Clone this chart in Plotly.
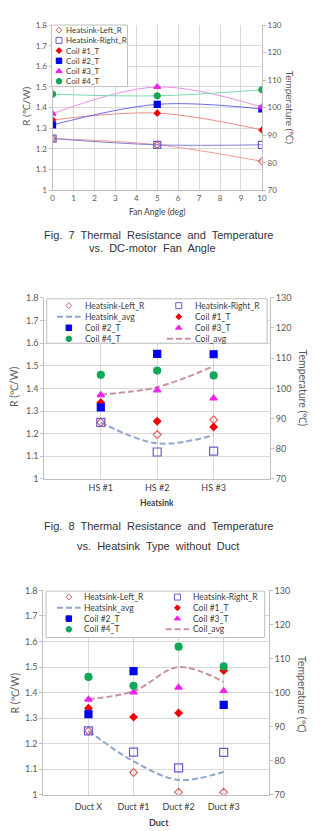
import plotly.graph_objects as go

W, H = 322, 831
FONT = "Lato, 'Liberation Sans', sans-serif"
CAP_FONT = "'Liberation Sans Narrow', 'Liberation Sans', sans-serif"
TXT = "#595959"
GRID = "#d9d9d9"
AXLINE = "#bfbfbf"

# ---------------- data ----------------
fan_angle = [0, 5, 10]
fan_left_R = [1.25, 1.22, 1.14]
fan_right_R = [1.25, 1.22, 1.22]
fan_coil1_T = [95.5, 98.0, 91.9]
fan_coil2_T = [93.7, 101.2, 99.5]
fan_coil3_T = [97.8, 107.5, 100.2]
fan_coil4_T = [104.9, 104.3, 106.5]

hs_cats = ["HS #1", "HS #2", "HS #3"]
hs_left_R = [1.25, 1.196, 1.261]
hs_right_R = [1.25, 1.119, 1.123]
hs_avg_R = [1.25, 1.157, 1.193]
hs_coil1_T = [95.3, 89.1, 87.2]
hs_coil2_T = [93.7, 111.4, 111.3]
hs_coil3_T = [97.8, 99.4, 96.7]
hs_coil4_T = [104.5, 105.9, 104.3]
hs_coil_avg_T = [98.0, 100.4, 107.4]

duct_cats = ["Duct X", "Duct #1", "Duct #2", "Duct #3"]
duct_left_R = [1.25, 1.087, 1.01, 1.01]
duct_right_R = [1.25, 1.167, 1.105, 1.166]
duct_avg_R = [1.25, 1.131, 1.058, 1.09]
duct_coil1_T = [95.4, 92.8, 94.0, 106.5]
duct_coil2_T = [93.7, 106.3, None, 96.4]
duct_coil3_T = [98.0, 100.1, 101.5, 100.5]
duct_coil4_T = [104.6, 102.0, 113.5, 107.7]
duct_coil_avg_T = [98.1, 100.4, 107.5, 103.1]

r_ticks = [1, 1.1, 1.2, 1.3, 1.4, 1.5, 1.6, 1.7, 1.8]
t_ticks = [70, 80, 90, 100, 110, 120, 130]

# ---------------- styles ----------------
STY = {
    "Heatsink-Left_R": dict(symbol="diamond-open", color="#e06060", line="#ee9a9a", kind="m",
                            s1=5.5, s2=6, sl=4.5),
    "Heatsink-Right_R": dict(symbol="square-open", color="#6a5cc8", line="#8080d8", kind="m",
                             s1=7, s2=8, sl=6),
    "Heatsink_avg": dict(color="#8fa6cf", kind="d"),
    "Coil #1_T": dict(symbol="diamond", color="#f00000", line="#f08a8a", kind="m",
                      s1=4.5, s2=5.5, sl=4.5),
    "Coil #2_T": dict(symbol="square", color="#0000f0", line="#6a6ae8", kind="m",
                      s1=6, s2=7, sl=5.5),
    "Coil #3_T": dict(symbol="triangle-up", color="#f020f0", line="#e890e8", kind="m",
                      s1=6, s2=6.5, sl=5.5),
    "Coil #4_T": dict(symbol="circle", color="#10a858", line="#78d8ac", kind="m",
                      s1=6, s2=7, sl=5.5),
    "Coil_avg": dict(color="#c9939a", kind="d"),
}


def pxx(x):
    return x / W


def pyy(y):
    return 1 - y / H


fig = go.Figure()

# panel geometry in pixels
P = [
    dict(x="x", yl="y", yr="y2", xd=(51.7, 265.7), yd=(19.3, 186.7), tf=8),
    dict(x="x2", yl="y3", yr="y4", xd=(43.3, 274.0), yd=(295.7, 479.3), tf=9),
    dict(x="x3", yl="y5", yr="y6", xd=(42.3, 272.7), yd=(592.3, 799.3), tf=9),
]

# ---------- chart 1 : fan angle ----------
fan_series = [
    ("Heatsink-Left_R", fan_left_R, "y"),
    ("Heatsink-Right_R", fan_right_R, "y"),
    ("Coil #1_T", fan_coil1_T, "y2"),
    ("Coil #2_T", fan_coil2_T, "y2"),
    ("Coil #3_T", fan_coil3_T, "y2"),
    ("Coil #4_T", fan_coil4_T, "y2"),
]
for name, vals, ya in fan_series:
    s = STY[name]
    fig.add_trace(go.Scatter(
        x=fan_angle, y=vals, xaxis="x", yaxis=ya, name=name, mode="lines+markers",
        line=dict(color=s["line"], width=1, shape="spline", smoothing=1),
        marker=dict(symbol=s["symbol"], color=s["color"], size=s["s1"],
                    line=dict(color=s["color"], width=1.2)),
        showlegend=False, hoverinfo="skip"))


def cat_panel(cats, xa, yl, yr, left, right, avgR, c1, c2, c3, c4, cavg):
    fig.add_trace(go.Scatter(x=cats, y=avgR, xaxis=xa, yaxis=yl, mode="lines",
                             line=dict(color=STY["Heatsink_avg"]["color"], width=2,
                                       dash="6px,3px", shape="spline", smoothing=1),
                             showlegend=False, hoverinfo="skip"))
    fig.add_trace(go.Scatter(x=cats, y=cavg, xaxis=xa, yaxis=yr, mode="lines",
                             line=dict(color=STY["Coil_avg"]["color"], width=2,
                                       dash="6px,3px", shape="spline", smoothing=1),
                             showlegend=False, hoverinfo="skip"))
    for name, vals, ya in [
        ("Heatsink-Left_R", left, yl),
        ("Heatsink-Right_R", right, yl),
        ("Coil #1_T", c1, yr),
        ("Coil #2_T", c2, yr),
        ("Coil #3_T", c3, yr),
        ("Coil #4_T", c4, yr),
    ]:
        s = STY[name]
        fig.add_trace(go.Scatter(
            x=cats, y=vals, xaxis=xa, yaxis=ya, mode="markers", name=name,
            marker=dict(symbol=s["symbol"], color=s["color"], size=s["s2"],
                        line=dict(color=s["color"], width=1.2)),
            showlegend=False, hoverinfo="skip"))


cat_panel(hs_cats, "x2", "y3", "y4", hs_left_R, hs_right_R, hs_avg_R,
          hs_coil1_T, hs_coil2_T, hs_coil3_T, hs_coil4_T, hs_coil_avg_T)
cat_panel(duct_cats, "x3", "y5", "y6", duct_left_R, duct_right_R, duct_avg_R,
          duct_coil1_T, duct_coil2_T, duct_coil3_T, duct_coil4_T, duct_coil_avg_T)

# ---------- axes ----------
layout_axes = {}
for i, p in enumerate(P):
    xk = "xaxis" if i == 0 else "xaxis%d" % (i + 1)
    ylk = "yaxis" if p["yl"] == "y" else "yaxis" + p["yl"][1:]
    yrk = "yaxis" + p["yr"][1:]
    tf = dict(family=FONT, size=p["tf"], color=TXT)
    xd = [pxx(p["xd"][0]), pxx(p["xd"][1])]
    yd = [pyy(p["yd"][1]), pyy(p["yd"][0])]
    xa = dict(domain=xd, anchor=p["yl"], showgrid=True, gridcolor=GRID, gridwidth=1,
              showline=True, linecolor=AXLINE, linewidth=1, ticks="", tickfont=tf,
              zeroline=False, fixedrange=True)
    if i == 0:
        xa.update(range=[0, 10], dtick=1, tick0=0)
    elif i == 1:
        xa.update(type="category", range=[-1, len(hs_cats)], categoryorder="array",
                  categoryarray=hs_cats, tickfont=dict(family=FONT, size=9, color="#404040"))
    else:
        xa.update(type="category", range=[-1, len(duct_cats)], categoryorder="array",
                  categoryarray=duct_cats, tickfont=dict(family=FONT, size=9, color="#404040"),
                  ticklabelstandoff=3)
    layout_axes[xk] = xa
    layout_axes[ylk] = dict(domain=yd, anchor=p["x"], range=[1, 1.8], tickvals=r_ticks,
                            showgrid=True, gridcolor=GRID, gridwidth=1, showline=True,
                            linecolor=AXLINE, ticks="outside", ticklen=3, tickcolor=AXLINE,
                            tickfont=tf, zeroline=False, fixedrange=True)
    layout_axes[yrk] = dict(domain=yd, anchor=p["x"], overlaying=p["yl"], side="right",
                            range=[70, 130], tickvals=t_ticks, showgrid=False, showline=True,
                            linecolor=AXLINE, ticks="outside", ticklen=3, tickcolor=AXLINE,
                            tickfont=tf, zeroline=False, fixedrange=True)

# helper axes in pixel units for the in-plot legend boxes
layout_axes["xaxis4"] = dict(domain=[0, 1], range=[0, W], visible=False, anchor="y7",
                             fixedrange=True)
layout_axes["yaxis7"] = dict(domain=[0, 1], range=[H, 0], visible=False, anchor="x4",
                             fixedrange=True)

annotations = []


def legend_box(box, names, ncols, col_sym, col_txt, row0, row_step, fsize):
    x0, y0, x1, y1 = box
    fig.add_trace(go.Scatter(x=[x0, x1, x1, x0, x0], y=[y0, y0, y1, y1, y0],
                             xaxis="x4", yaxis="y7", mode="lines", fill="toself",
                             fillcolor="white", line=dict(color=AXLINE, width=1),
                             showlegend=False, hoverinfo="skip"))
    for k, name in enumerate(names):
        r, c = divmod(k, ncols)
        sy = row0 + r * row_step
        sx = col_sym[c]
        s = STY[name]
        if s["kind"] == "d":
            fig.add_trace(go.Scatter(x=[sx - 12, sx + 12], y=[sy, sy], xaxis="x4", yaxis="y7",
                                     mode="lines", line=dict(color=s["color"], width=2,
                                                             dash="6px,3px"),
                                     showlegend=False, hoverinfo="skip"))
        else:
            fig.add_trace(go.Scatter(x=[sx], y=[sy], xaxis="x4", yaxis="y7", mode="markers",
                                     marker=dict(symbol=s["symbol"], color=s["color"],
                                                 size=s["sl"],
                                                 line=dict(color=s["color"], width=1)),
                                     showlegend=False, hoverinfo="skip"))
        annotations.append(dict(x=pxx(col_txt[c]), y=pyy(sy), xref="paper", yref="paper",
                                text=name, showarrow=False, xanchor="left", yanchor="middle",
                                font=dict(family=FONT, size=fsize, color="#404040")))


legend_box((50.7, 19.3, 128.3, 81.7),
           ["Heatsink-Left_R", "Heatsink-Right_R", "Coil #1_T", "Coil #2_T",
            "Coil #3_T", "Coil #4_T"], 1, [58.3], [63.3], 24.5, 10.35, 8)
legend_box((45.7, 296.7, 271.0, 341.7),
           ["Heatsink-Left_R", "Heatsink-Right_R", "Heatsink_avg", "Coil #1_T",
            "Coil #2_T", "Coil #3_T", "Coil #4_T", "Coil_avg"], 2,
           [68.3, 180.7], [82.7, 195.7], 303.7, 11.2, 8.5)
legend_box((45.0, 593.0, 268.5, 640.0),
           ["Heatsink-Left_R", "Heatsink-Right_R", "Heatsink_avg", "Coil #1_T",
            "Coil #2_T", "Coil #3_T", "Coil #4_T", "Coil_avg"], 2,
           [68.3, 179.3], [81.7, 193.3], 599.0, 10.9, 8.5)


def ann(x, y, text, size, angle=0, color=TXT, family=FONT, bold=False):
    annotations.append(dict(x=pxx(x), y=pyy(y), xref="paper", yref="paper",
                            text=("<b>%s</b>" % text) if bold else text, showarrow=False,
                            xanchor="center", yanchor="middle", textangle=angle,
                            font=dict(family=family, size=size, color=color)))


# axis titles
ann(25, 101.7, "R (℃/W)", 10, -90)
ann(294, 102.5, "Temperature (℃)", 10, 90)
ann(12.5, 386, "R (℃/W)", 10.5, -90)
ann(308, 387, "Temperature (℃)", 10.5, 90)
ann(13.3, 696.7, "R (℃/W)", 10.5, -90)
ann(306, 697.5, "Temperature (℃)", 10.5, 90)
ann(159, 209, "Fan Angle (deg)", 8.5, color="#404040")
ann(158, 504, "Heatsink", 8.5, color="#404040", bold=True)
ann(160, 827, "Duct", 9, color="#404040", bold=True)

# captions
CAPC = "#333333"
ann(159.5, 232, "Fig.  7  Thermal  Resistance  and  Temperature", 11, color=CAPC, family=CAP_FONT)
ann(154, 245.5, "vs.  DC-motor  Fan  Angle", 11, color=CAPC, family=CAP_FONT)
ann(159.5, 527.3, "Fig.  8  Thermal  Resistance  and  Temperature", 11, color=CAPC, family=CAP_FONT)
ann(159.5, 547, "vs.  Heatsink  Type  without  Duct", 11, color=CAPC, family=CAP_FONT)

fig.update_layout(
    width=W, height=H, margin=dict(l=0, r=0, t=0, b=0),
    paper_bgcolor="white", plot_bgcolor="rgba(0,0,0,0)",
    showlegend=False, annotations=annotations, **layout_axes)

fig.write_html("out.html", config={"displayModeBar": False})
